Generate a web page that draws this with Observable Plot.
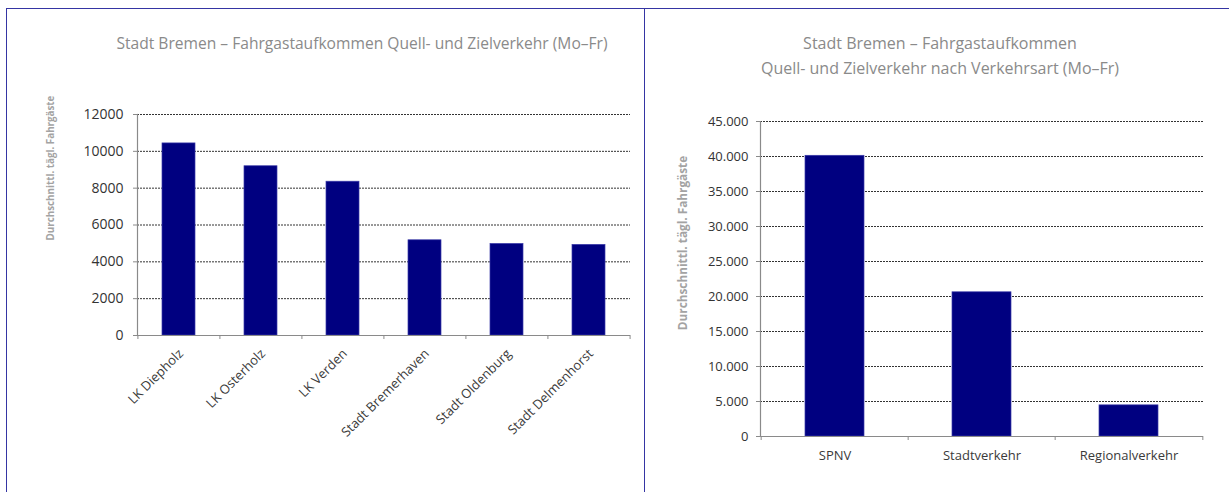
<!DOCTYPE html>
<html><head><meta charset="utf-8">
<script src="https://cdn.jsdelivr.net/npm/d3@7"></script>
<script src="https://cdn.jsdelivr.net/npm/@observablehq/plot@0.6"></script>
<style>
body{margin:0;background:#fff;}
#root{position:relative;width:1229px;height:492px;overflow:hidden;font-family:"Open Sans",sans-serif;background:#fff;}
.title{position:absolute;color:#8a8a8a;white-space:nowrap;transform:translate(-50%,-50%);text-align:center;line-height:25px;}
.ylab{position:absolute;color:#a3a3a3;font-weight:bold;white-space:nowrap;transform:translate(-50%,-50%) rotate(-90deg);}
.bline{position:absolute;background:#3535a3;}
svg{position:absolute;overflow:visible;}
</style></head><body><div id="root"></div>
<script>
// ---- data ----
const regionCategories = ["LK Diepholz", "LK Osterholz", "LK Verden", "Stadt Bremerhaven", "Stadt Oldenburg", "Stadt Delmenhorst"];
const regionValues = [10430, 9190, 8350, 5170, 4970, 4920];
const regionTicks = [0, 2000, 4000, 6000, 8000, 10000, 12000];

const modeCategories = ["SPNV", "Stadtverkehr", "Regionalverkehr"];
const modeValues = [40100, 20600, 4450];
const modeTicks = [0, 5000, 10000, 15000, 20000, 25000, 30000, 35000, 40000, 45000];

const leftTitle = "Stadt Bremen – Fahrgastaufkommen Quell- und Zielverkehr (Mo–Fr)";
const rightTitleLines = ["Stadt Bremen – Fahrgastaufkommen", "Quell- und Zielverkehr nach Verkehrsart (Mo–Fr)"];
const yLabel = "Durchschnittl. tägl. Fahrgäste";

// ---- helpers ----
const root = document.getElementById("root");
const de = d3.formatLocale({decimal: ",", thousands: ".", grouping: [3], currency: ["", " €"]});

function addDiv(cls, html, style) {
  const d = document.createElement("div");
  d.className = cls;
  d.innerHTML = html;
  Object.assign(d.style, style);
  root.appendChild(d);
  return d;
}

function barChart(o) {
  const data = o.cats.map((c, i) => ({c, v: o.vals[i]}));
  const step = (o.width - o.mL - o.mR) / o.cats.length;
  const last = o.cats[o.cats.length - 1];
  const labelMarks = o.rotate
    ? Plot.text(o.cats, {x: d => d, y: 0, text: d => d, rotate: -45, textAnchor: "end", lineAnchor: "middle", dx: 2, dy: 16, fontSize: o.xFont, fill: "#3a3a3a"})
    : Plot.text(o.cats, {x: d => d, y: 0, text: d => d, textAnchor: "middle", lineAnchor: "middle", dy: 19, fontSize: o.xFont, fill: "#3a3a3a"});
  return Plot.plot({
    width: o.width, height: o.height,
    marginLeft: o.mL, marginRight: o.mR, marginTop: o.mT, marginBottom: o.mB,
    style: {fontFamily: "'Open Sans', sans-serif", background: "transparent", overflow: "visible"},
    x: {domain: o.cats, paddingInner: 0.6, paddingOuter: 0.3, axis: null},
    y: {domain: [0, o.ticks[o.ticks.length - 1]], axis: null},
    marks: [
      Plot.ruleY(o.ticks.filter(t => t > 0), {stroke: "#333", strokeDasharray: "2,1", strokeWidth: 1}),
      Plot.barY(data, {x: "c", y: "v", fill: "#000080", stroke: "#3a3aa8", strokeWidth: 0.7}),
      Plot.ruleY([0], {stroke: "#8a8a8a", strokeWidth: 1.2}),
      Plot.frame({anchor: "left", stroke: "#8a8a8a", strokeWidth: 1.2}),
      Plot.axisY(o.ticks, {tickSize: 4, tickPadding: o.tickPad, tickFormat: o.fmt, stroke: "#8a8a8a", fill: "#333", fontSize: o.yFont, label: null}),
      Plot.ruleX(o.cats, {x: d => d, dx: -step / 2, y1: 0, y2: 0, insetBottom: -4, stroke: "#8a8a8a"}),
      Plot.ruleX([last], {x: d => d, dx: step / 2, y1: 0, y2: 0, insetBottom: -4, stroke: "#8a8a8a"}),
      labelMarks
    ]
  });
}

// ---- borders ----
addDiv("bline", "", {left: "6px", top: "8px", width: "1223px", height: "1px"});
addDiv("bline", "", {left: "6px", top: "8px", width: "1px", height: "484px"});
addDiv("bline", "", {left: "644px", top: "8px", width: "1px", height: "484px"});

// ---- left chart ----
const left = barChart({
  cats: regionCategories, vals: regionValues, ticks: regionTicks,
  width: 640, height: 492, mL: 137, mR: 10, mT: 114, mB: 157,
  fmt: d => String(d), tickPad: 10, yFont: 14, xFont: 13, rotate: true
});
left.style.left = "0px"; left.style.top = "0px";
root.appendChild(left);
addDiv("title", leftTitle, {left: "362px", top: "43px", fontSize: "15.6px"});
addDiv("ylab", yLabel, {left: "50px", top: "168px", fontSize: "9.8px"});

// ---- right chart ----
const right = barChart({
  cats: modeCategories, vals: modeValues, ticks: modeTicks,
  width: 585, height: 492, mL: 116, mR: 26, mT: 121, mB: 56,
  fmt: de.format(",d"), tickPad: 8, yFont: 13, xFont: 13, rotate: false
});
right.style.left = "644px"; right.style.top = "0px";
root.appendChild(right);
addDiv("title", rightTitleLines.join("<br>"), {left: "940px", top: "56px", fontSize: "16px"});
addDiv("ylab", yLabel, {left: "682px", top: "243px", fontSize: "11.8px"});
</script>
</body></html>
